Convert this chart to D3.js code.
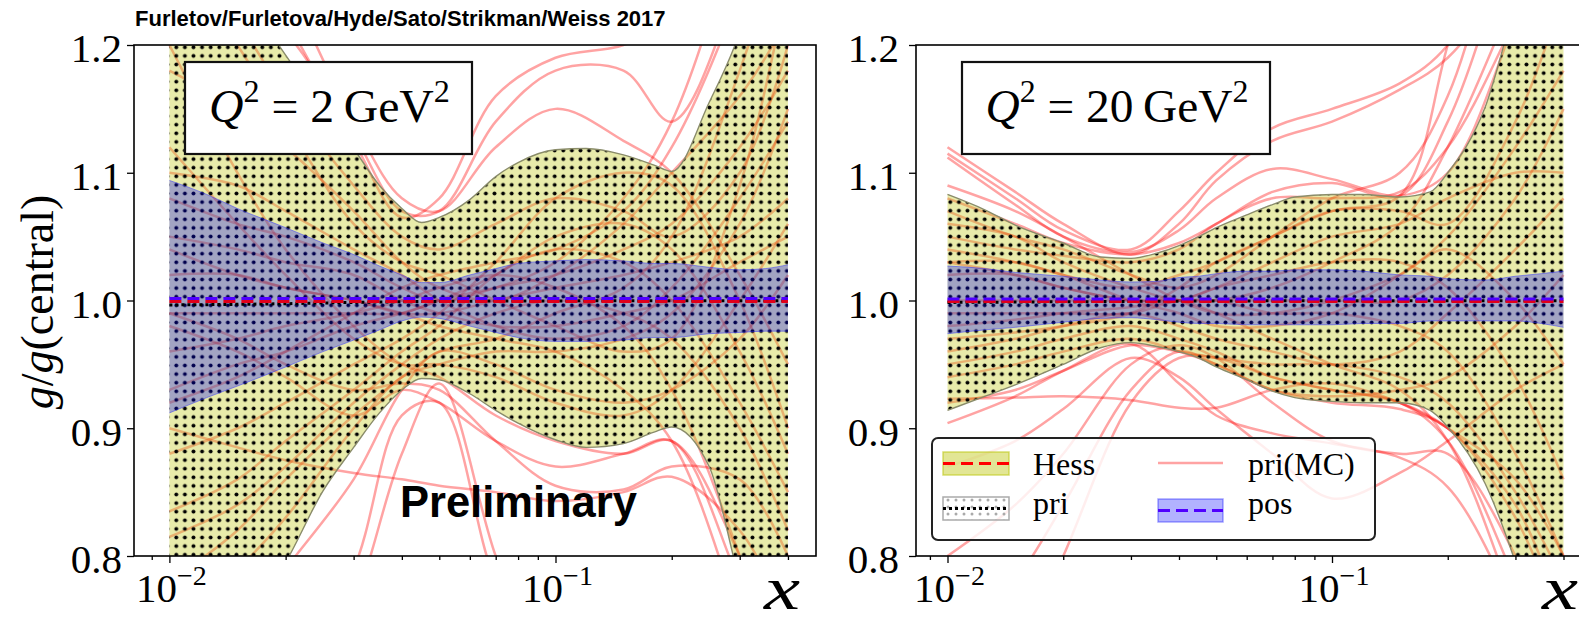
<!DOCTYPE html>
<html>
<head>
<meta charset="utf-8">
<title>g/g(central)</title>
<script src="https://d3js.org/d3.v7.min.js"></script>
<style>
  body { margin: 0; background: #fff; }
  svg { display: block; }
</style>
</head>
<body>
<svg width="1579" height="623"></svg>
<script>
// ---- data ----
const xBand = [0.01, 0.0125, 0.015, 0.02, 0.025, 0.03, 0.035, 0.04, 0.045, 0.05, 0.06, 0.07, 0.08, 0.1, 0.12, 0.15, 0.18, 0.2, 0.25, 0.3, 0.35, 0.4];

// Q2 = 2 GeV2
const hessHi2 = [1.35, 1.29, 1.25, 1.192, 1.151, 1.119, 1.090, 1.072, 1.061, 1.065, 1.079, 1.097, 1.108, 1.118, 1.119, 1.114, 1.106, 1.101, 1.155, 1.21, 1.28, 1.35];
const hessLo2 = [0.68, 0.71, 0.74, 0.795, 0.851, 0.885, 0.912, 0.930, 0.939, 0.938, 0.927, 0.914, 0.904, 0.891, 0.885, 0.888, 0.897, 0.901, 0.870, 0.78, 0.71, 0.65];
const posHi2 = [1.094, 1.083, 1.072, 1.057, 1.045, 1.036, 1.027, 1.020, 1.014, 1.014, 1.020, 1.025, 1.029, 1.031, 1.032, 1.031, 1.029, 1.029, 1.026, 1.024, 1.025, 1.028];
const posLo2 = [0.912, 0.924, 0.933, 0.948, 0.960, 0.969, 0.977, 0.984, 0.987, 0.986, 0.980, 0.975, 0.971, 0.968, 0.968, 0.969, 0.971, 0.971, 0.974, 0.975, 0.976, 0.976];

// Q2 = 20 GeV2
const hessHi20 = [1.083, 1.071, 1.059, 1.045, 1.034, 1.033, 1.037, 1.043, 1.050, 1.057, 1.067, 1.075, 1.081, 1.083, 1.083, 1.081, 1.085, 1.100, 1.151, 1.23, 1.28, 1.33];
const hessLo20 = [0.914, 0.925, 0.934, 0.950, 0.963, 0.967, 0.964, 0.960, 0.955, 0.948, 0.938, 0.929, 0.924, 0.921, 0.920, 0.920, 0.914, 0.901, 0.857, 0.795, 0.73, 0.68];
const posHi20 = [1.027, 1.025, 1.022, 1.019, 1.016, 1.0145, 1.015, 1.018, 1.019, 1.021, 1.023, 1.023, 1.024, 1.024, 1.023, 1.020, 1.019, 1.017, 1.016, 1.019, 1.021, 1.023];
const posLo20 = [0.974, 0.977, 0.979, 0.983, 0.986, 0.9865, 0.985, 0.983, 0.982, 0.982, 0.981, 0.981, 0.981, 0.981, 0.982, 0.982, 0.984, 0.984, 0.984, 0.984, 0.982, 0.979];

// central lines
const xMid = [0.01, 0.02, 0.03, 0.05, 0.1, 0.4];
const priMid2 = [0.9965, 0.9975, 0.9985, 0.9993, 0.9997, 0.9998];
const hessMid2 = [0.9993, 0.9993, 0.9993, 0.9993, 0.9993, 0.9993];
const posMid2 = [1.0015, 1.0015, 1.0015, 1.0015, 1.0015, 1.0015];
const priMid20 = [0.9985, 0.999, 0.9993, 0.9996, 0.9998, 0.9998];
const hessMid20 = [0.9993, 0.9993, 0.9993, 0.9993, 0.9993, 0.9993];
const posMid20 = [1.0012, 1.0012, 1.0012, 1.0012, 1.0012, 1.0012];

// MC replicas, pri(MC)
const mcX = [0.01, 0.015, 0.02, 0.03, 0.04, 0.05, 0.07, 0.1, 0.15, 0.2, 0.3, 0.4];
const mc2 = [
  [1.30, 1.22, 1.16, 1.09, 1.05, 1.04, 1.06, 1.08, 1.07, 1.05, 1.10, 1.20],
  [1.25, 1.24, 1.21, 1.13, 1.07, 1.07, 1.14, 1.18, 1.18, 1.14, 1.25, 1.35],
  [1.35, 1.28, 1.22, 1.125, 1.065, 1.08, 1.16, 1.19, 1.20, 1.22, 1.30, 1.40],
  [1.40, 1.32, 1.25, 1.14, 1.08, 1.07, 1.12, 1.15, 1.125, 1.10, 1.02, 0.95],
  [1.18, 1.15, 1.12, 1.07, 1.03, 1.01, 1.00, 1.02, 1.06, 1.10, 1.16, 1.22],
  [1.10, 1.09, 1.07, 1.04, 1.02, 1.00, 0.98, 0.97, 0.98, 1.01, 1.08, 1.14],
  [1.05, 1.04, 1.03, 1.02, 1.00, 0.99, 0.98, 0.98, 0.99, 1.00, 1.03, 1.05],
  [1.02, 1.02, 1.01, 1.00, 0.99, 0.99, 1.00, 1.01, 1.02, 1.03, 1.05, 1.08],
  [0.99, 0.99, 0.99, 0.99, 0.99, 1.00, 1.01, 1.02, 1.04, 1.06, 1.12, 1.18],
  [0.93, 0.95, 0.96, 0.98, 0.99, 1.00, 1.02, 1.05, 1.06, 1.04, 0.96, 0.88],
  [0.88, 0.90, 0.92, 0.95, 0.97, 0.99, 1.03, 1.08, 1.10, 1.09, 1.00, 0.90],
  [0.835, 0.86, 0.89, 0.93, 0.96, 0.98, 1.02, 1.04, 1.03, 1.00, 0.92, 0.85],
  [0.815, 0.84, 0.87, 0.92, 0.95, 0.97, 0.99, 1.00, 0.99, 0.97, 0.90, 0.82],
  [0.75, 0.79, 0.83, 0.90, 0.94, 0.95, 0.96, 0.96, 0.97, 0.99, 1.06, 1.15],
  [0.70, 0.74, 0.79, 0.86, 0.93, 0.96, 0.95, 0.93, 0.92, 0.93, 0.97, 1.02],
  [1.20, 1.10, 1.04, 0.98, 0.95, 0.94, 0.91, 0.89, 0.88, 0.89, 0.80, 0.70],
  [1.12, 1.06, 1.02, 0.97, 0.95, 0.95, 0.94, 0.92, 0.91, 0.93, 1.00, 1.06],
  [0.99, 0.97, 0.95, 0.93, 0.935, 0.93, 0.89, 0.855, 0.852, 0.87, 0.86, 0.80],
  [0.50, 0.58, 0.65, 0.76, 0.88, 0.935, 0.80, 0.68, 0.60, 0.58, 0.55, 0.52],
  [0.55, 0.62, 0.70, 0.79, 0.91, 0.92, 0.78, 0.70, 0.66, 0.64, 0.60, 0.56],
  [0.98, 0.96, 0.94, 0.91, 0.93, 0.92, 0.89, 0.87, 0.88, 0.89, 0.78, 0.70],
  [0.90, 0.885, 0.875, 0.865, 0.86, 0.855, 0.85, 0.843, 0.85, 0.862, 0.82, 0.75],
  [1.04, 1.02, 1.01, 1.00, 0.99, 0.98, 0.97, 0.96, 0.93, 0.89, 0.75, 0.62],
  [0.96, 0.97, 0.98, 0.99, 1.00, 1.01, 1.02, 1.01, 0.98, 0.93, 0.80, 0.68],
  [1.08, 1.06, 1.05, 1.03, 1.01, 1.00, 1.01, 1.03, 1.08, 1.14, 1.30, 1.45],
  [0.92, 0.94, 0.96, 0.99, 1.01, 1.02, 1.03, 1.04, 1.07, 1.12, 1.24, 1.35],
  [1.28, 1.20, 1.14, 1.06, 1.03, 1.02, 1.00, 0.98, 0.96, 0.97, 1.09, 1.25],
  [0.78, 0.82, 0.86, 0.91, 0.94, 0.96, 0.97, 0.99, 1.01, 1.05, 1.18, 1.30]
];
const mc20 = [
  [1.12, 1.085, 1.06, 1.036, 1.06, 1.094, 1.125, 1.14, 1.165, 1.19, 1.26, 1.32],
  [1.115, 1.08, 1.055, 1.04, 1.07, 1.10, 1.135, 1.15, 1.17, 1.20, 1.30, 1.38],
  [1.112, 1.075, 1.05, 1.038, 1.055, 1.08, 1.103, 1.095, 1.082, 1.10, 1.22, 1.32],
  [1.08, 1.06, 1.045, 1.036, 1.045, 1.06, 1.085, 1.092, 1.082, 1.14, 1.30, 1.45],
  [1.07, 1.05, 1.04, 1.02, 1.01, 1.02, 1.05, 1.08, 1.10, 1.16, 1.35, 1.50],
  [1.06, 1.05, 1.03, 1.01, 1.00, 1.00, 1.01, 1.03, 1.06, 1.12, 1.24, 1.33],
  [1.04, 1.03, 1.02, 1.00, 0.99, 0.98, 0.98, 0.99, 1.02, 1.05, 1.12, 1.18],
  [1.02, 1.02, 1.01, 1.00, 1.00, 1.00, 0.99, 0.99, 0.98, 0.96, 0.88, 0.80],
  [1.00, 1.00, 1.00, 1.00, 1.00, 1.01, 1.02, 1.03, 1.03, 1.01, 0.94, 0.86],
  [0.98, 0.985, 0.99, 0.995, 1.00, 1.01, 1.03, 1.05, 1.06, 1.08, 1.10, 1.10],
  [0.96, 0.97, 0.98, 0.99, 0.98, 0.97, 0.96, 0.95, 0.96, 0.99, 1.04, 1.08],
  [0.95, 0.96, 0.97, 0.98, 0.97, 0.96, 0.94, 0.93, 0.92, 0.90, 0.84, 0.75],
  [0.94, 0.95, 0.96, 0.97, 0.96, 0.95, 0.93, 0.925, 0.93, 0.94, 0.98, 1.02],
  [0.92, 0.93, 0.945, 0.965, 0.96, 0.955, 0.95, 0.95, 0.94, 0.92, 0.85, 0.78],
  [0.904, 0.925, 0.945, 0.966, 0.935, 0.91, 0.896, 0.888, 0.877, 0.854, 0.76, 0.68],
  [0.923, 0.924, 0.925, 0.922, 0.916, 0.916, 0.93, 0.935, 0.92, 0.90, 0.86, 0.80],
  [0.87, 0.89, 0.915, 0.955, 0.94, 0.915, 0.88, 0.845, 0.865, 0.89, 0.93, 0.95],
  [0.80, 0.84, 0.88, 0.95, 0.965, 0.955, 0.92, 0.89, 0.88, 0.88, 0.80, 0.70],
  [0.72, 0.78, 0.84, 0.93, 0.96, 0.95, 0.93, 0.92, 0.915, 0.90, 0.83, 0.74],
  [0.65, 0.72, 0.80, 0.92, 0.955, 0.955, 0.94, 0.93, 0.92, 0.89, 0.78, 0.68],
  [1.03, 1.02, 1.01, 1.00, 1.00, 0.99, 0.97, 0.95, 0.93, 0.89, 0.76, 0.65],
  [0.99, 0.99, 0.99, 0.99, 1.00, 1.00, 1.00, 1.00, 1.00, 1.02, 1.08, 1.15],
  [1.09, 1.07, 1.05, 1.02, 1.00, 0.99, 0.99, 1.00, 1.02, 1.04, 1.00, 0.95],
  [0.97, 0.975, 0.98, 0.99, 1.01, 1.03, 1.05, 1.07, 1.07, 1.06, 1.14, 1.24],
  [1.05, 1.04, 1.035, 1.03, 1.04, 1.06, 1.08, 1.08, 1.085, 1.12, 1.22, 1.30],
  [1.03, 1.03, 1.02, 1.01, 1.02, 1.03, 1.05, 1.07, 1.082, 1.20, 1.40, 1.55]
];

const yTicks = [0.8, 0.9, 1.0, 1.1, 1.2];
const xMajor = [[0.01, "\u22122"], [0.1, "\u22121"]];
const xMinor = [0.009, 0.02, 0.03, 0.04, 0.05, 0.06, 0.07, 0.08, 0.09, 0.2, 0.3, 0.4];
const qLabels = ["2", "20"];
const legendItems = ["Hess", "pri", "pri(MC)", "pos"];

// ---- layout ----
const serif = "'Liberation Serif', 'DejaVu Serif', serif";
const sans = "'Liberation Sans', Arial, sans-serif";
const plotTop = 45, plotBottom = 556;
const yellow = "rgb(190,200,20)";
const yellowAlpha = 0.36;

const svg = d3.select("svg");
const defs = svg.append("defs");

defs.append("pattern").attr("id", "dots")
    .attr("patternUnits", "userSpaceOnUse")
    .attr("width", 8.6).attr("height", 8.6)
  .append("circle").attr("cx", 4.3).attr("cy", 4.3).attr("r", 1.95).attr("fill", "#000");

defs.append("pattern").attr("id", "dotsGrey")
    .attr("patternUnits", "userSpaceOnUse")
    .attr("width", 8).attr("height", 7)
  .append("circle").attr("cx", 4).attr("cy", 3).attr("r", 1.5).attr("fill", "#aaa");

const panels = [
  {id: "p2", left: 134, right: 816, x01: 169.4, x1: 555.5, labelEnd: 122,
   hessHi: hessHi2, hessLo: hessLo2, posHi: posHi2, posLo: posLo2,
   priMid: priMid2, hessMid: hessMid2, posMid: posMid2, mc: mc2,
   box: [185, 62, 287, 92], q: qLabels[0], qWidth: 241, xlab: 764},
  {id: "p20", left: 916, right: 1592, x01: 947.5, x1: 1332, labelEnd: 899,
   hessHi: hessHi20, hessLo: hessLo20, posHi: posHi20, posLo: posLo20,
   priMid: priMid20, hessMid: hessMid20, posMid: posMid20, mc: mc20,
   box: [962, 62, 308, 92], q: qLabels[1], qWidth: 263, xlab: 1542}
];

// scale a text element horizontally to a target width, keeping its left edge
function fitWidth(sel, x0, target) {
  const w = sel.node().getBBox().width;
  sel.attr("transform", `translate(${x0},0) scale(${target / w},1) translate(${-x0},0)`);
}

panels.forEach(p => {
  const x = d3.scaleLog().domain([0.01, 0.1]).range([p.x01, p.x1]);
  const y = d3.scaleLinear().domain([0.8, 1.2]).range([plotBottom, plotTop]);

  defs.append("clipPath").attr("id", "clip-" + p.id)
    .append("rect").attr("x", p.left).attr("y", plotTop)
    .attr("width", p.right - p.left).attr("height", plotBottom - plotTop);

  const g = svg.append("g").attr("clip-path", `url(#clip-${p.id})`);

  const band = (lo, hi) => d3.area()
      .x((d, i) => x(xBand[i]))
      .y0((d, i) => y(lo[i]))
      .y1((d, i) => y(hi[i]))
      .curve(d3.curveMonotoneX)(xBand);
  const edge = arr => d3.line()
      .x((d, i) => x(xBand[i]))
      .y((d, i) => y(arr[i]))
      .curve(d3.curveMonotoneX)(xBand);

  // MC replicas
  const mcLine = d3.line()
      .x((d, i) => x(mcX[i]))
      .y(d => y(d))
      .curve(d3.curveCatmullRom.alpha(0.5));
  g.selectAll(".mc").data(p.mc).enter().append("path")
    .attr("class", "mc")
    .attr("d", mcLine)
    .attr("fill", "none")
    .attr("stroke", "#ff0000")
    .attr("stroke-opacity", 0.36)
    .attr("stroke-width", 2.5);

  // Hess band
  g.append("path").attr("d", band(p.hessLo, p.hessHi))
    .attr("fill", yellow).attr("fill-opacity", yellowAlpha);
  // pri band (dot hatch)
  g.append("path").attr("d", band(p.hessLo, p.hessHi))
    .attr("fill", "url(#dots)");
  [p.hessHi, p.hessLo].forEach(arr => {
    g.append("path").attr("d", edge(arr))
      .attr("fill", "none").attr("stroke", "#8a8c6a").attr("stroke-width", 1.4);
  });

  // pos band
  g.append("path").attr("d", band(p.posLo, p.posHi))
    .attr("fill", "#0000ff").attr("fill-opacity", 0.3);
  [p.posHi, p.posLo].forEach(arr => {
    g.append("path").attr("d", edge(arr))
      .attr("fill", "none").attr("stroke", "#3030ff").attr("stroke-opacity", 0.5).attr("stroke-width", 1);
  });

  // central lines
  const mid = d3.line().x((d, i) => x(xMid[i])).y(d => y(d)).curve(d3.curveMonotoneX);
  g.append("path").attr("d", mid(p.priMid))
    .attr("fill", "none").attr("stroke", "#000").attr("stroke-width", 3)
    .attr("stroke-dasharray", "3,3");
  g.append("path").attr("d", mid(p.hessMid))
    .attr("fill", "none").attr("stroke", "#e0001a").attr("stroke-width", 3)
    .attr("stroke-dasharray", "12,6");
  g.append("path").attr("d", mid(p.posMid))
    .attr("fill", "none").attr("stroke", "#5000ff").attr("stroke-width", 3)
    .attr("stroke-dasharray", "12,6");

  // axes
  const xAxisMajor = svg.append("g").attr("transform", `translate(0,${plotBottom})`)
    .call(d3.axisBottom(x).tickValues(xMajor.map(d => d[0])).tickSize(7).tickFormat(""));
  const xAxisMinor = svg.append("g").attr("transform", `translate(0,${plotBottom})`)
    .call(d3.axisBottom(x).tickValues(xMinor.filter(v => x(v) > p.left && x(v) < p.right)).tickSize(4).tickFormat(""));
  [xAxisMajor, xAxisMinor].forEach(a => {
    a.select(".domain").remove();
    a.selectAll("line").attr("stroke-width", 1.3);
  });

  const yAxis = svg.append("g").attr("transform", `translate(${p.left},0)`)
    .call(d3.axisLeft(y).tickValues(yTicks).tickSize(7)
      .tickPadding(p.left - 7 - p.labelEnd).tickFormat(d3.format(".1f")));
  yAxis.select(".domain").remove();
  yAxis.selectAll("line").attr("stroke-width", 1.3);
  yAxis.selectAll("text")
    .attr("font-family", serif).attr("font-size", 41).attr("dy", "0.41em").attr("fill", "#000");

  // spines
  svg.append("rect").attr("x", p.left).attr("y", plotTop)
    .attr("width", p.right - p.left).attr("height", plotBottom - plotTop)
    .attr("fill", "none").attr("stroke", "#000").attr("stroke-width", 1.6);

  // x tick labels 10^n
  xMajor.forEach(([v, e]) => {
    const t = svg.append("text").attr("x", x(v) + 2).attr("y", 602)
      .attr("text-anchor", "middle").attr("font-family", serif).attr("font-size", 41);
    t.append("tspan").text("10");
    t.append("tspan").attr("dy", -17).attr("font-size", 28).text(e);
  });

  // x label
  const xl = svg.append("text").attr("x", p.xlab).attr("y", 609)
    .attr("font-family", serif).attr("font-style", "italic").attr("font-size", 62)
    .text("x");
  fitWidth(xl, p.xlab, 38);

  // Q2 box
  svg.append("rect").attr("x", p.box[0]).attr("y", p.box[1])
    .attr("width", p.box[2]).attr("height", p.box[3])
    .attr("fill", "#fff").attr("stroke", "#111").attr("stroke-width", 2.2);
  const qx = p.box[0] + (p.box[2] - p.qWidth) / 2 + 1;
  const qt = svg.append("text").attr("x", qx).attr("y", 122)
    .attr("font-family", serif).attr("font-size", 46);
  qt.append("tspan").attr("font-style", "italic").text("Q");
  qt.append("tspan").attr("dy", -20).attr("font-size", 31).text("2");
  qt.append("tspan").attr("dy", 20).text(" = " + p.q + "\u2009GeV");
  qt.append("tspan").attr("dy", -20).attr("font-size", 31).text("2");
  fitWidth(qt, qx, p.qWidth);
});

// y label
const yl = svg.append("text")
  .attr("transform", "translate(53,302) rotate(-90)")
  .attr("text-anchor", "middle")
  .attr("font-family", serif).attr("font-size", 46);
yl.append("tspan").attr("font-style", "italic").text("g");
yl.append("tspan").text("/");
yl.append("tspan").attr("font-style", "italic").text("g");
yl.append("tspan").text("(central)");

// title
const title = svg.append("text").attr("x", 135).attr("y", 26)
  .attr("font-family", sans).attr("font-weight", "bold").attr("font-size", 22)
  .text("Furletov/Furletova/Hyde/Sato/Strikman/Weiss 2017");
fitWidth(title, 135, 531);

// Preliminary
const prelim = svg.append("text").attr("x", 400).attr("y", 517)
  .attr("font-family", sans).attr("font-weight", "bold").attr("font-size", 45)
  .text("Preliminary");
fitWidth(prelim, 400, 237);

// legend
const lg = svg.append("g");
lg.append("rect").attr("x", 932).attr("y", 438).attr("width", 443).attr("height", 102)
  .attr("rx", 6).attr("fill", "#fff").attr("fill-opacity", 0.82)
  .attr("stroke", "#222").attr("stroke-width", 2);
const handles = [
  {x: 943, y: 452, text: legendItems[0]},
  {x: 943, y: 497, text: legendItems[1]},
  {x: 1158, y: 452, text: legendItems[2]},
  {x: 1158, y: 499, text: legendItems[3]}
];
// Hess handle
lg.append("rect").attr("x", handles[0].x).attr("y", handles[0].y).attr("width", 66).attr("height", 23)
  .attr("fill", yellow).attr("fill-opacity", 0.45).attr("stroke", yellow).attr("stroke-opacity", 0.6).attr("stroke-width", 1.5);
lg.append("line").attr("x1", handles[0].x).attr("x2", handles[0].x + 66)
  .attr("y1", handles[0].y + 11.5).attr("y2", handles[0].y + 11.5)
  .attr("stroke", "#ff0000").attr("stroke-width", 3).attr("stroke-dasharray", "12,6");
// pri handle
lg.append("rect").attr("x", handles[1].x).attr("y", handles[1].y).attr("width", 66).attr("height", 23)
  .attr("fill", "url(#dotsGrey)").attr("stroke", "#aaa").attr("stroke-width", 1.5);
lg.append("line").attr("x1", handles[1].x).attr("x2", handles[1].x + 66)
  .attr("y1", handles[1].y + 11.5).attr("y2", handles[1].y + 11.5)
  .attr("stroke", "#000").attr("stroke-width", 3).attr("stroke-dasharray", "3,3");
// pri(MC) handle
lg.append("line").attr("x1", handles[2].x).attr("x2", handles[2].x + 65)
  .attr("y1", 463).attr("y2", 463)
  .attr("stroke", "#ff0000").attr("stroke-opacity", 0.36).attr("stroke-width", 2.6);
// pos handle
lg.append("rect").attr("x", handles[3].x).attr("y", handles[3].y).attr("width", 65).attr("height", 23)
  .attr("fill", "#0000ff").attr("fill-opacity", 0.3).attr("stroke", "#0000ff").attr("stroke-opacity", 0.35).attr("stroke-width", 1.5);
lg.append("line").attr("x1", handles[3].x).attr("x2", handles[3].x + 65)
  .attr("y1", handles[3].y + 11.5).attr("y2", handles[3].y + 11.5)
  .attr("stroke", "#5000ff").attr("stroke-width", 3).attr("stroke-dasharray", "12,6");

lg.selectAll(".ltext").data(handles).enter().append("text")
  .attr("class", "ltext")
  .attr("x", (d, i) => i < 2 ? 1033 : 1248)
  .attr("y", (d, i) => i % 2 === 0 ? 475 : 514)
  .attr("font-family", serif).attr("font-size", 32)
  .text(d => d.text);
</script>
</body>
</html>
